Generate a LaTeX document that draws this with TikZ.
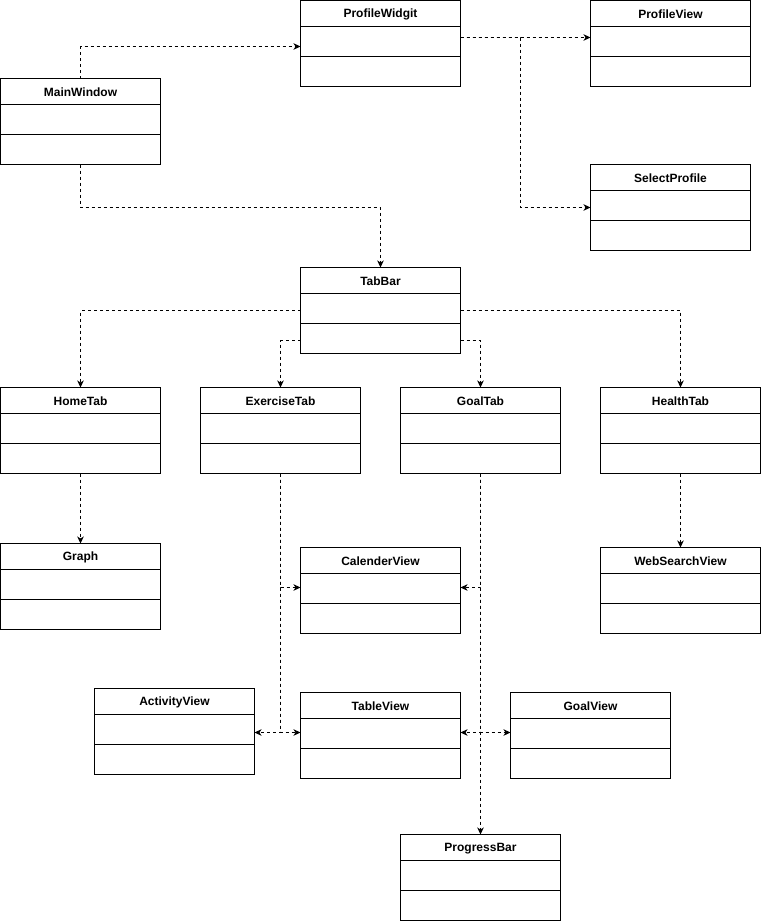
\documentclass[tikz,border=0pt]{standalone}
\usepackage{fontspec}
\setmainfont{Liberation Sans}
\usetikzlibrary{calc,arrows.meta}
\tikzset{
  umlbox/.style={draw=black, line width=1pt, minimum width=160pt, minimum height=86pt, inner sep=0pt, outer sep=0pt, fill=white},
  umltitle/.style={font=\fontsize{12}{14}\selectfont\bfseries, inner sep=0pt},
  umlline/.style={draw=black, line width=1pt},
  conn/.style={draw=black, line width=0.9pt, dash pattern=on 3pt off 3pt, -{Stealth[length=7pt,width=6.5pt,inset=2pt]}}
}
\newcommand{\umlclass}[4]{%
  \node[umlbox, anchor=north west] (#1) at (#2,#3) {};
  \node[umltitle] (#1-t) at ($(#1.north)+(0,14)$) {#4};
  \draw[umlline] ($(#1.north west)+(0,26)$) -- ($(#1.north east)+(0,26)$);
  \draw[umlline] ($(#1.north west)+(0,56)$) -- ($(#1.north east)+(0,56)$);
}
\begin{document}
\begin{tikzpicture}[x=1pt,y=-1pt]
\useasboundingbox[fill=white] (-0.5,-0.5) rectangle (760.5,923.5);
\umlclass{pw}{300}{0}{ProfileWidgit}
\umlclass{pv}{590}{0}{ProfileView}
\umlclass{mw}{0}{78}{MainWindow}
\umlclass{sp}{590}{164}{SelectProfile}
\umlclass{tb}{300}{267}{TabBar}
\umlclass{home}{0}{387}{HomeTab}
\umlclass{ex}{200}{387}{ExerciseTab}
\umlclass{gt}{400}{387}{GoalTab}
\umlclass{health}{600}{387}{HealthTab}
\umlclass{graph}{0}{543}{Graph}
\umlclass{cal}{300}{547}{CalenderView}
\umlclass{web}{600}{547}{WebSearchView}
\umlclass{act}{94}{688}{ActivityView}
\umlclass{table}{300}{692}{TableView}
\umlclass{gv}{510}{692}{GoalView}
\umlclass{pb}{400}{834}{ProgressBar}

\coordinate (j1) at (520,207);
\draw[conn] (mw.north) |- (pw.west |- 0,46);
\draw[conn] (pw.east |- 0,37) -- (pv.west |- 0,37);
\draw[conn] (pw.east |- 0,37) -| (j1) -- (sp.west |- j1);
\draw[conn] (mw.south) |- (tb.north |- 0,207) -- (tb.north);
\draw[conn] (tb.west |- 0,310) -| (home.north);
\draw[conn] (tb.east |- 0,310) -| (health.north);
\draw[conn] (tb.west |- 0,340) -| (ex.north);
\draw[conn] (tb.east |- 0,340) -| (gt.north);
\draw[conn] (home.south) -- (graph.north);
\draw[conn] (health.south) -- (web.north);
\draw[conn] (ex.south) |- (cal.west |- 0,587);
\draw[conn] (ex.south) |- (act.east |- 0,732);
\draw[conn] (ex.south) |- (table.west |- 0,732);
\draw[conn] (gt.south) |- (cal.east |- 0,587);
\draw[conn] (gt.south) |- (table.east |- 0,732);
\draw[conn] (gt.south) |- (gv.west |- 0,732);
\draw[conn] (gt.south) -- (pb.north);
\end{tikzpicture}
\end{document}
